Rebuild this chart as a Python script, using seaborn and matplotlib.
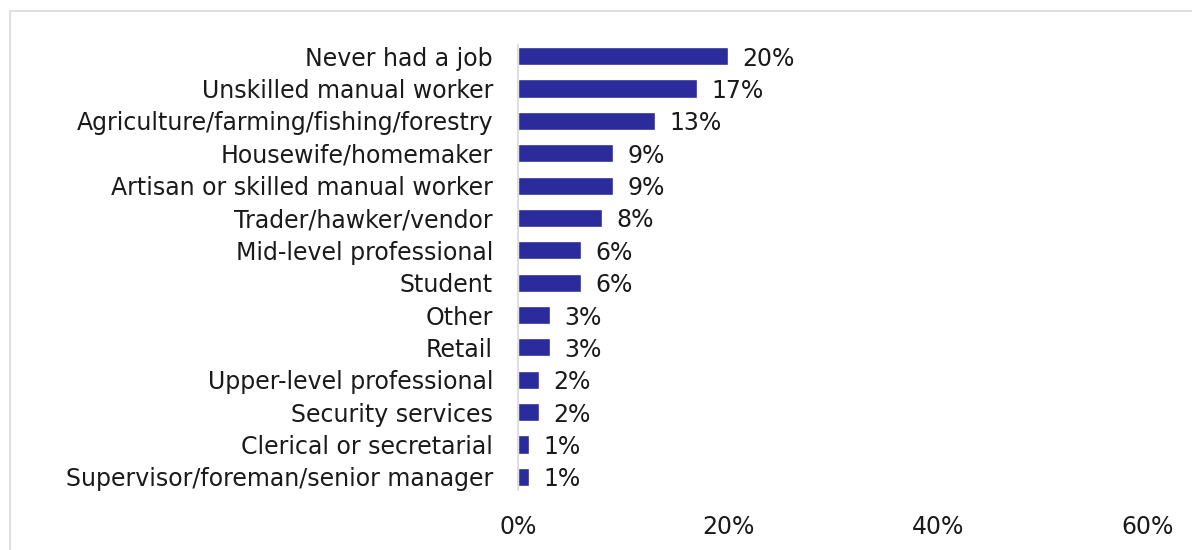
import matplotlib
matplotlib.use("Agg")
import matplotlib.pyplot as plt
import seaborn as sns
import pandas as pd
from matplotlib.patches import Rectangle

occupations = [
    "Never had a job",
    "Unskilled manual worker",
    "Agriculture/farming/fishing/forestry",
    "Housewife/homemaker",
    "Artisan or skilled manual worker",
    "Trader/hawker/vendor",
    "Mid-level professional",
    "Student",
    "Other",
    "Retail",
    "Upper-level professional",
    "Security services",
    "Clerical or secretarial",
    "Supervisor/foreman/senior manager",
]
shares = [20, 17, 13, 9, 9, 8, 6, 6, 3, 3, 2, 2, 1, 1]
x_ticks = [0, 20, 40, 60]
x_tick_labels = ["0%", "20%", "40%", "60%"]

sns.set_theme(style="white")
plt.rcParams["font.family"] = ["DejaVu Sans"]

df = pd.DataFrame({"occupation": occupations, "share": shares})

fig = plt.figure(figsize=(11.92, 5.5), dpi=100)
ax = fig.add_axes([0.4346, 0.1036, 0.5285, 0.8237])

bar_color = "#2B2B9B"
sns.barplot(data=df, x="share", y="occupation", orient="h", color=bar_color,
            width=0.56, saturation=1, ax=ax)

fs = 17
text_color = "#1a1a1a"
for i, v in enumerate(shares):
    ax.text(v + 1.4, i, f"{v}%", va="center_baseline", ha="left",
            fontsize=fs, color=text_color)

ax.set_xlim(0, 60)
ax.set_ylim(len(occupations) - 0.5, -0.5)
ax.set_xticks(x_ticks)
ax.set_xticklabels(x_tick_labels, fontsize=fs, color=text_color)
ax.tick_params(axis="x", length=0, pad=16)
ax.tick_params(axis="y", length=0, pad=18, labelsize=fs, labelcolor=text_color)
ax.set_xlabel("")
ax.set_ylabel("")
for side in ["top", "right", "bottom"]:
    ax.spines[side].set_visible(False)
ax.spines["left"].set_color("#d9d9d9")
ax.spines["left"].set_linewidth(1.2)
ax.spines["left"].set_bounds(len(occupations) - 0.6, -0.35)

# chart frame
fig.patches.append(Rectangle((10 / 1192, -0.1), 1.2, 1 - 11 / 550 + 0.1,
                             transform=fig.transFigure, fill=False,
                             edgecolor="#d9d9d9", linewidth=1.2))

fig.savefig("out.png", dpi=100)
